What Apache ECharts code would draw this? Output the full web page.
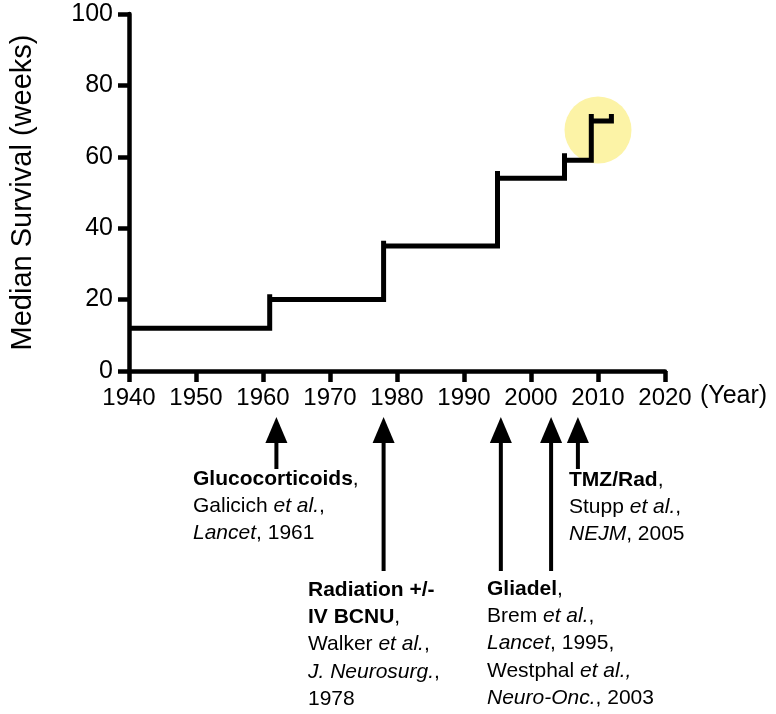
<!DOCTYPE html>
<html><head><meta charset="utf-8">
<script src="https://cdn.jsdelivr.net/npm/echarts@6/dist/echarts.min.js"></script>
<style>html,body{margin:0;padding:0;background:#fff}#c{width:776px;height:714px}</style>
</head><body><div id="c"></div>
<script>
// ---- data ----
const stepYears = [1961, 1978, 1995, 2005, 2009];
const stepLevels = [12, 20, 35, 54, 59, 70];
const stepPeaks = [21.5, 36.5, 56, 61, 72];
const startYear = 1940;
const endYear = 2012;
const endPeak = 72;
const highlightPoint = [[2010, 67.5]];
const arrowYears = [1962, 1978, 1995.5, 2003, 2007];
const arrowRow = [0, 1, 1, 1, 0]; // 0 = upper label row, 1 = lower label row
const xMin = 1940, xMax = 2020, xStep = 10;
const yMin = 0, yMax = 100, yStep = 20;

// build step polyline points
const pts = [[startYear, stepLevels[0]]];
for (let i = 0; i < stepYears.length; i++) {
  pts.push([stepYears[i], stepLevels[i]]);
  pts.push([stepYears[i], stepPeaks[i]]);
  pts.push([stepYears[i], stepLevels[i + 1]]);
}
pts.push([endYear, stepLevels[stepLevels.length - 1]]);
pts.push([endYear, endPeak]);

const FONT = '"Liberation Sans", Arial, Helvetica, sans-serif';
const rich = {
  b: {fontFamily: FONT, fontSize: 21, fontWeight: 'bold', color: '#000', lineHeight: 27.3},
  r: {fontFamily: FONT, fontSize: 21, color: '#000', lineHeight: 27.3},
  i: {fontFamily: FONT, fontSize: 21, fontStyle: 'italic', color: '#000', lineHeight: 27.3}
};
function txt(x, y, t) {
  return {type: 'text', left: x, top: y, style: {text: t, rich: rich, fill: '#000'}};
}

const chart = echarts.init(document.getElementById('c'));
chart.setOption({
  backgroundColor: '#fff',
  animation: false,
  grid: {left: 127, right: 111, top: 14, bottom: 343},
  xAxis: {
    type: 'value', min: xMin, max: xMax, interval: xStep,
    splitLine: {show: false},
    axisLine: {show: true, lineStyle: {color: '#000', width: 4.5}},
    axisTick: {show: true, length: 11, lineStyle: {color: '#000', width: 4.5}},
    axisLabel: {color: '#000', fontFamily: FONT, fontSize: 24, margin: 15,
      formatter: function (v) { return String(v); }}
  },
  yAxis: {
    type: 'value', min: yMin, max: yMax, interval: yStep,
    name: 'Median Survival (weeks)', nameLocation: 'middle', nameGap: 92,
    nameTextStyle: {color: '#000', fontFamily: FONT, fontSize: 29},
    splitLine: {show: false},
    axisLine: {show: true, lineStyle: {color: '#000', width: 4.5}},
    axisTick: {show: true, length: 11, lineStyle: {color: '#000', width: 4.5}},
    axisLabel: {color: '#000', fontFamily: FONT, fontSize: 25, margin: 16}
  },
  series: [
    {
      type: 'scatter', data: highlightPoint, symbolSize: 67, z: 1,
      itemStyle: {color: '#fcf3a6', opacity: 1}, silent: true
    },
    {
      type: 'line', data: pts, showSymbol: false, symbol: 'none', z: 3,
      lineStyle: {color: '#000', width: 5, join: 'miter', cap: 'butt'}
    },
    {
      type: 'custom', clip: false, z: 3,
      data: arrowYears.map((y, i) => [y, 0, arrowRow[i]]),
      renderItem: function (params, api) {
        const p = api.coord([api.value(0), 0]);
        const x = p[0], base = p[1];
        const tip = base + 46, headBase = base + 72;
        const end = base + (api.value(2) ? 200 : 98);
        return {
          type: 'group',
          children: [
            {type: 'line', shape: {x1: x, y1: headBase - 2, x2: x, y2: end},
             style: {stroke: '#000', lineWidth: 4}},
            {type: 'polygon', shape: {points: [[x, tip], [x - 11, headBase], [x + 11, headBase]]},
             style: {fill: '#000'}}
          ]
        };
      }
    }
  ],
  graphic: [
    {type: 'text', left: 700, top: 384, style: {text: '(Year)', font: '25px ' + FONT, fill: '#000'}},
    txt(193, 468.5, '{b|Glucocorticoids}{r|,}\n{r|Galicich }{i|et al.}{r|,}\n{i|Lancet}{r|, 1961}'),
    txt(308, 579.5, '{b|Radiation +/-}\n{b|IV BCNU}{r|,}\n{r|Walker }{i|et al.}{r|,}\n{i|J. Neurosurg.}{r|,}\n{r|1978}'),
    txt(487, 578.5, '{b|Gliadel}{r|,}\n{r|Brem }{i|et al.}{r|,}\n{i|Lancet}{r|, 1995,}\n{r|Westphal }{i|et al.,}\n{i|Neuro-Onc.}{r|, 2003}'),
    txt(569, 469.5, '{b|TMZ/Rad}{r|,}\n{r|Stupp }{i|et al.}{r|,}\n{i|NEJM}{r|, 2005}')
  ]
});
</script>
</body></html>
